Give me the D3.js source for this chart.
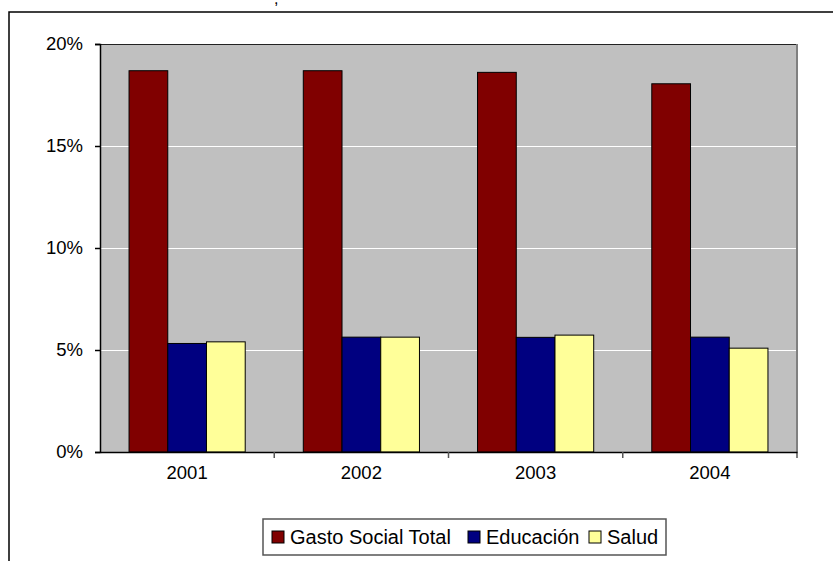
<!DOCTYPE html>
<html>
<head>
<meta charset="utf-8">
<script src="https://cdn.jsdelivr.net/npm/d3@7"></script>
<style>
  body { margin: 0; background: #fff; }
  svg { display: block; font-family: "Liberation Sans", Arial, sans-serif; }
</style>
</head>
<body>
<div id="chart-container"></div>
<script>
// Data
const years = ["2001", "2002", "2003", "2004"];
const seriesNames = ["Gasto Social Total", "Educación", "Salud"];
const gastoSocial = [18.69, 18.69, 18.61, 18.05];
const educacion = [5.32, 5.63, 5.62, 5.63];
const salud = [5.40, 5.63, 5.73, 5.09];
const yTicks = [0, 5, 10, 15, 20];
const seriesColors = ["#800000", "#000080", "#ffff99"];

const seriesValues = [gastoSocial, educacion, salud];

// Plot area
const plot = { left: 100, top: 44, right: 797, bottom: 452 };

const svg = d3.select("#chart-container")
  .append("svg")
    .attr("width", 833)
    .attr("height", 561);

// Outer chart border (cut off by the picture)
svg.append("path")
  .attr("d", "M9,561 V12 H833")
  .attr("fill", "none")
  .attr("stroke", "#000")
  .attr("stroke-width", 1.5);

// Scales
const x0 = d3.scaleBand()
  .domain(years)
  .range([plot.left, plot.right]);

const x1 = d3.scaleBand()
  .domain(seriesNames)
  .range([0, x0.bandwidth()])
  .paddingInner(0)
  .paddingOuter(0.75);

const y = d3.scaleLinear()
  .domain([0, 20])
  .range([plot.bottom, plot.top]);

// Plot area background
svg.append("rect")
  .attr("x", plot.left)
  .attr("y", plot.top)
  .attr("width", plot.right - plot.left)
  .attr("height", plot.bottom - plot.top)
  .attr("fill", "#c0c0c0");

// Gridlines
svg.selectAll(".grid")
  .data(yTicks.slice(1, -1))
  .join("line")
  .attr("x1", plot.left)
  .attr("x2", plot.right)
  .attr("y1", d => Math.round(y(d)) + 0.5)
  .attr("y2", d => Math.round(y(d)) + 0.5)
  .attr("stroke", "#fff")
  .attr("stroke-width", 1);

// Plot area border top / right
svg.append("line")
  .attr("x1", plot.left).attr("x2", plot.right)
  .attr("y1", plot.top + 0.5).attr("y2", plot.top + 0.5)
  .attr("stroke", "#222").attr("stroke-width", 1);
svg.append("line")
  .attr("x1", plot.right).attr("x2", plot.right)
  .attr("y1", plot.top).attr("y2", plot.bottom + 6)
  .attr("stroke", "#808080").attr("stroke-width", 2);

// Bars
const rows = years.map((yr, i) => ({
  year: yr,
  values: seriesNames.map((s, j) => ({ name: s, value: seriesValues[j][i], color: seriesColors[j] }))
}));

svg.append("g")
  .selectAll("g")
  .data(rows)
  .join("g")
    .attr("transform", d => `translate(${x0(d.year)},0)`)
  .selectAll("rect")
  .data(d => d.values)
  .join("rect")
    .attr("x", d => x1(d.name))
    .attr("y", d => y(d.value))
    .attr("width", x1.bandwidth())
    .attr("height", d => y(0) - y(d.value))
    .attr("fill", d => d.color)
    .attr("stroke", "#000")
    .attr("stroke-width", 1);

// Y axis
svg.append("g")
  .attr("transform", `translate(${plot.left},0)`)
  .style("font-size", "18.5px")
  .call(d3.axisLeft(y)
    .tickValues(yTicks)
    .tickFormat(d => d + "%")
    .tickSize(5)
    .tickPadding(12))
  .call(g => g.selectAll("text").attr("fill", "#000").attr("font-family", "Liberation Sans, Arial, sans-serif"))
  .call(g => g.selectAll("line, .domain").attr("stroke", "#000").attr("stroke-width", 1.5));

// X axis
svg.append("g")
  .attr("transform", `translate(0,${plot.bottom})`)
  .style("font-size", "18.5px")
  .call(d3.axisBottom(x0).tickSize(0).tickPadding(14))
  .call(g => g.select(".domain").attr("stroke", "#000").attr("stroke-width", 1.5))
  .call(g => g.selectAll("text").attr("fill", "#000").attr("font-family", "Liberation Sans, Arial, sans-serif"));

// X axis tick marks between categories
svg.selectAll(".xtick")
  .data(years.slice(1))
  .join("line")
  .attr("x1", d => x0(d))
  .attr("x2", d => x0(d))
  .attr("y1", plot.bottom)
  .attr("y2", plot.bottom + 6)
  .attr("stroke", "#555")
  .attr("stroke-width", 1.5);

// Legend
const legend = svg.append("g").attr("transform", "translate(263,519)");
legend.append("rect")
  .attr("x", 0).attr("y", 0)
  .attr("width", 403).attr("height", 36)
  .attr("fill", "#fff")
  .attr("stroke", "#555")
  .attr("stroke-width", 1.5);

const legendX = [9, 205, 326];
const items = legend.selectAll(".item")
  .data(seriesNames)
  .join("g")
  .attr("transform", (d, i) => `translate(${legendX[i]},0)`);
items.append("rect")
  .attr("x", 0).attr("y", 12)
  .attr("width", 12).attr("height", 12)
  .attr("fill", (d, i) => seriesColors[i])
  .attr("stroke", "#000")
  .attr("stroke-width", 1);
items.append("text")
  .attr("x", 18)
  .attr("y", 25)
  .style("font-size", "20px")
  .text(d => d);

// Fragment of title cut off at top
svg.append("text")
  .attr("x", 274)
  .attr("y", 4)
  .style("font-size", "16px")
  .text(",");
</script>
</body>
</html>
